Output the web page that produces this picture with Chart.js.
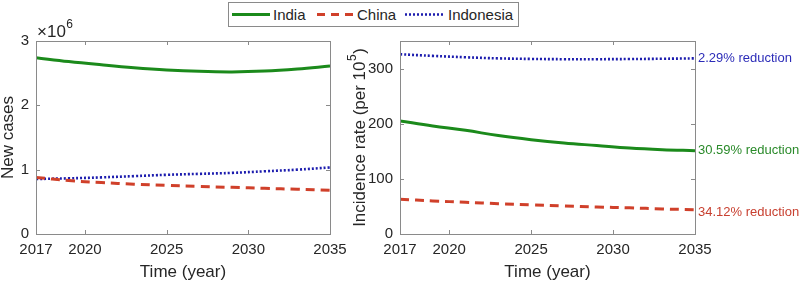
<!DOCTYPE html>
<html>
<head>
<meta charset="utf-8">
<script src="https://cdn.jsdelivr.net/npm/chart.js@4/dist/chart.umd.min.js"></script>
<style>
  html, body { margin:0; padding:0; background:#fff; }
  #wrap { position:relative; width:800px; height:284px; overflow:hidden; font-family:"Liberation Sans", Arial, sans-serif; }
  canvas { position:absolute; top:0; }
  #legend { position:absolute; left:228px; top:2px; width:289px; height:23px; border:1px solid #8a8a8a; background:#fff; }
  .lg { position:absolute; top:0; height:23px; line-height:23px; font-size:15px; color:#262626; }
  .ls { position:absolute; top:0; }
</style>
</head>
<body>
<div id="wrap">
  <canvas id="c1" width="360" height="284" style="left:0"></canvas>
  <canvas id="c2" width="460" height="284" style="left:340px"></canvas>
  <div id="legend">
    <svg class="ls" style="left:3px" width="38" height="23"><line x1="0" y1="11.5" x2="38" y2="11.5" stroke="#1b8a1b" stroke-width="3"/></svg>
    <span class="lg" style="left:44px">India</span>
    <svg class="ls" style="left:87px" width="40" height="23"><line x1="1" y1="11.5" x2="40" y2="11.5" stroke="#d0402a" stroke-width="3" stroke-dasharray="8,6"/></svg>
    <span class="lg" style="left:128px">China</span>
    <svg class="ls" style="left:176px" width="38" height="23"><line x1="0" y1="11.5" x2="38" y2="11.5" stroke="#1c1cae" stroke-width="2.5" stroke-dasharray="2,2"/></svg>
    <span class="lg" style="left:219px">Indonesia</span>
  </div>
</div>
<script>
// ---- data ----
const years = [2017, 2019, 2021, 2023, 2025, 2027, 2029, 2031, 2033, 2035];
const indiaCases = [2.74, 2.68, 2.63, 2.585, 2.55, 2.528, 2.52, 2.533, 2.565, 2.61];      // x10^6
const chinaCases = [0.88, 0.83, 0.80, 0.775, 0.755, 0.74, 0.725, 0.71, 0.695, 0.68];     // x10^6
const indonesiaCases = [0.855, 0.865, 0.88, 0.90, 0.92, 0.935, 0.95, 0.975, 1.0, 1.035];  // x10^6
const indiaRate = [205, 196, 188, 178.5, 171, 165, 160.5, 156, 153, 151];
const chinaRate = [63, 60, 57.5, 55, 53, 51, 49, 47.5, 45.5, 44];
const indonesiaRate = [326, 323, 320.5, 318.5, 317.5, 317, 317, 317.3, 317.8, 318.5];
const xTicks = [2017, 2020, 2025, 2030, 2035];
const casesTicks = [0, 1, 2, 3];
const rateTicks = [0, 100, 200, 300];
const reductionLabels = ["30.59% reduction", "34.12% reduction", "2.29% reduction"]; // India, China, Indonesia

const GREEN = '#1b8a1b', RED = '#d0402a', BLUE = '#1c1cae';
const TXT = '#262626';
const FONT = '"Liberation Sans", Arial, sans-serif';

function pts(vals) { return years.map((y, i) => ({ x: y, y: vals[i] })); }

function makeDatasets(a, b, c) {
  return [
    { label: 'India', data: pts(a), borderColor: GREEN, borderWidth: 3, pointRadius: 0, tension: 0.4, fill: false },
    { label: 'China', data: pts(b), borderColor: RED, borderWidth: 3, borderDash: [9, 6], pointRadius: 0, tension: 0.4, fill: false },
    { label: 'Indonesia', data: pts(c), borderColor: BLUE, borderWidth: 2.6, borderDash: [2, 2], pointRadius: 0, tension: 0.4, fill: false }
  ];
}

function scales(yTicks, yMax, yWidth) {
  return {
    x: {
      type: 'linear', min: 2017, max: 2035,
      afterBuildTicks: s => { s.ticks = xTicks.map(v => ({ value: v })); },
      afterFit: s => { s.height = 50; },
      grid: { display: false, drawTicks: false },
      border: { display: false },
      ticks: { color: TXT, font: { family: FONT, size: 15 }, padding: 7, maxRotation: 0, autoSkip: false, callback: v => String(v) }
    },
    y: {
      type: 'linear', min: 0, max: yMax,
      afterBuildTicks: s => { s.ticks = yTicks.map(v => ({ value: v })); },
      afterFit: s => { s.width = yWidth; },
      grid: { display: false, drawTicks: false },
      border: { display: false },
      ticks: { color: TXT, font: { family: FONT, size: 15 }, padding: 7, callback: v => String(v) }
    }
  };
}

function boxPlugin(extra) {
  return {
    id: 'box',
    afterDraw(chart) {
      const ctx = chart.ctx, a = chart.chartArea;
      const xs = chart.scales.x, ys = chart.scales.y;
      ctx.save();
      ctx.strokeStyle = '#8a8a8a';
      ctx.lineWidth = 1;
      ctx.strokeRect(Math.round(a.left) + 0.5, Math.round(a.top) + 0.5, Math.round(a.right - a.left), Math.round(a.bottom - a.top));
      ctx.beginPath();
      xs.ticks.forEach(t => {
        const px = Math.round(xs.getPixelForValue(t.value)) + 0.5;
        ctx.moveTo(px, a.bottom); ctx.lineTo(px, a.bottom - 4);
        ctx.moveTo(px, a.top); ctx.lineTo(px, a.top + 4);
      });
      ys.ticks.forEach(t => {
        const py = Math.round(ys.getPixelForValue(t.value)) + 0.5;
        ctx.moveTo(a.left, py); ctx.lineTo(a.left + 4, py);
        ctx.moveTo(a.right, py); ctx.lineTo(a.right - 4, py);
      });
      ctx.stroke();
      // x title
      ctx.fillStyle = TXT;
      ctx.font = '17px ' + FONT;
      ctx.textAlign = 'center';
      ctx.textBaseline = 'middle';
      ctx.fillText('Time (year)', (a.left + a.right) / 2, 272);
      extra(chart, ctx, a, xs, ys);
      ctx.restore();
    }
  };
}

// ---- left chart ----
new Chart(document.getElementById('c1'), {
  type: 'line',
  data: { datasets: makeDatasets(indiaCases, chinaCases, indonesiaCases) },
  options: {
    responsive: false, animation: false,
    layout: { padding: { top: 41, right: 30, left: 0, bottom: 0 } },
    plugins: { legend: { display: false }, tooltip: { enabled: false } },
    scales: scales(casesTicks, 3, 36)
  },
  plugins: [boxPlugin((chart, ctx, a) => {
    // y title
    ctx.save();
    ctx.translate(8, (a.top + a.bottom) / 2);
    ctx.rotate(-Math.PI / 2);
    ctx.font = '17px ' + FONT;
    ctx.textAlign = 'center'; ctx.textBaseline = 'middle';
    ctx.fillText('New cases', 0, 0);
    ctx.restore();
    // exponent label
    ctx.font = '17px ' + FONT;
    ctx.textAlign = 'left'; ctx.textBaseline = 'alphabetic';
    ctx.fillText('\u00d710', a.left + 1, a.top - 4);
    const w = ctx.measureText('\u00d710').width;
    ctx.font = '12px ' + FONT;
    ctx.fillText('6', a.left + 1 + w + 0.5, a.top - 13);
  })]
});

// ---- right chart ----
new Chart(document.getElementById('c2'), {
  type: 'line',
  data: { datasets: makeDatasets(indiaRate, chinaRate, indonesiaRate) },
  options: {
    responsive: false, animation: false,
    layout: { padding: { top: 41, right: 105, left: 0, bottom: 0 } },
    plugins: { legend: { display: false }, tooltip: { enabled: false } },
    scales: scales(rateTicks, 350, 60)
  },
  plugins: [boxPlugin((chart, ctx, a, xs, ys) => {
    // y title with superscript
    ctx.save();
    ctx.translate(20, (a.top + a.bottom) / 2);
    ctx.rotate(-Math.PI / 2);
    ctx.font = '17px ' + FONT;
    const main = 'Incidence rate (per 10';
    const wMain = ctx.measureText(main).width;
    ctx.font = '12px ' + FONT;
    const wSup = ctx.measureText('5').width;
    ctx.font = '17px ' + FONT;
    const wClose = ctx.measureText(')').width;
    const total = wMain + wSup + 1 + wClose;
    let x0 = -total / 2;
    ctx.textAlign = 'left'; ctx.textBaseline = 'middle';
    ctx.fillText(main, x0, 0);
    ctx.font = '12px ' + FONT;
    ctx.fillText('5', x0 + wMain + 0.5, -7);
    ctx.font = '17px ' + FONT;
    ctx.fillText(')', x0 + wMain + wSup + 1, 0);
    ctx.restore();
    // reduction labels
    ctx.font = '13px ' + FONT;
    ctx.textAlign = 'left'; ctx.textBaseline = 'middle';
    const last = years.length - 1;
    const series = [[indiaRate, '#2a8a2a', 0], [chinaRate, '#c84030', 3], [indonesiaRate, '#2c2cb8', 0]];
    series.forEach((s, i) => {
      ctx.fillStyle = s[1];
      ctx.fillText(reductionLabels[i], a.right + 3, ys.getPixelForValue(s[0][last]) + s[2]);
    });
  })]
});
</script>
</body>
</html>
